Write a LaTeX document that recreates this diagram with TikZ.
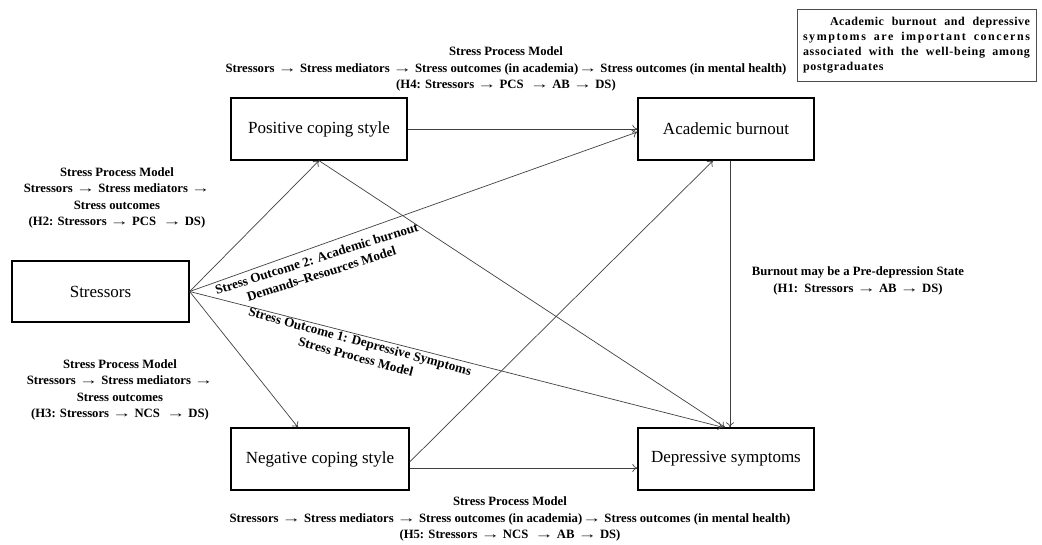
\documentclass[tikz,border=0pt]{standalone}
\usepackage{fontspec}
\usepackage{graphicx}
\setmainfont{Liberation Serif}
\newfontfamily\lsa[LetterSpace=4]{Liberation Serif}
\newfontfamily\lsb[LetterSpace=13]{Liberation Serif}
\newfontfamily\lsc[LetterSpace=6]{Liberation Serif}
\usetikzlibrary{arrows.meta}
\newcommand\rar{\scalebox{1.5}[1]{→}}
\begin{document}
\begin{tikzpicture}[x=1pt,y=-1pt,
  box/.style={draw=black,line width=1.3pt,minimum width=176pt,minimum height=62pt,inner sep=0pt,font=\fontsize{17}{20}\selectfont},
  lbl/.style={font=\bfseries\fontsize{12.7}{16.5}\selectfont,align=center,inner sep=0pt},
  rlbl/.style={font=\bfseries\fontsize{13.2}{16}\selectfont,align=center,inner sep=0pt},
  conn/.style={draw=black!75,line width=0.7pt,-{To[length=5pt,width=8pt]}}]
\useasboundingbox (0,0) rectangle (1042,544);
\node[box,minimum width=177pt,minimum height=61pt] (S) at (100.5,291.5) {Stressors};
\node[box] (P) at (319,129) {Positive coping style};
\node[box,minimum width=178pt] (N) at (320,459) {Negative coping style};
\node[box] (A) at (726,129) {Academic burnout};
\node[box] (D) at (726,459) {Depressive symptoms};
\node[draw=black!70,line width=0.9pt,minimum width=239pt,minimum height=72pt,inner sep=0pt] (note) at (916.5,45) {};
\node[align=left,inner sep=0pt,font=\fontsize{12}{15}\selectfont] (notetext) at (note.center) {%
\makebox[227pt][s]{\lsa\bfseries\hspace*{27pt}Academic burnout and depressive}\\
\makebox[227pt][s]{\lsb\bfseries symptoms are important concerns}\\
\makebox[227pt][s]{\lsc\bfseries associated with the well-being among}\\
\makebox[227pt][l]{\lsc\bfseries postgraduates}};
% connectors
\draw[conn] (S.east) -- (P.south);
\draw[conn] (S.east) -- ([xshift=-22pt]N.north);
\draw[conn] (S.east) -- ([yshift=-3pt]A.west);
\draw[conn] (S.east) -- ([xshift=-3pt]D.north);
\draw[conn] (P.south) -- ([xshift=-1pt]D.north);
\draw[conn] (P.east) -- (A.west);
\draw[conn] ([yshift=-3pt]N.east) -- ([xshift=-13pt]A.south);
\draw[conn] ([yshift=-9pt]N.east) -- ([yshift=-9pt]D.west);
\draw[conn] ([xshift=4pt]A.south) -- ([xshift=4pt]D.north);
% labels
\node[lbl] (l4) at (506,69) {Stress Process Model\\Stressors \rar{} Stress mediators \rar{} Stress outcomes (in academia)\rar{} Stress outcomes (in mental health)\\(H4: Stressors \rar{} PCS \ \rar{} AB \rar{} DS)};
\node[lbl] (l2) at (117,198) {Stress Process Model\\Stressors \rar{} Stress mediators \rar\\Stress outcomes\\(H2: Stressors \rar{} PCS \ \rar{} DS)};
\node[lbl] (l3) at (120,390) {Stress Process Model\\Stressors \rar{} Stress mediators \rar\\Stress outcomes\\(H3: Stressors \rar{} NCS \ \rar{} DS)};
\node[lbl] (l5) at (510,519) {Stress Process Model\\Stressors \rar{} Stress mediators \rar{} Stress outcomes (in academia)\rar{} Stress outcomes (in mental health)\\(H5: Stressors \rar{} NCS \ \rar{} AB \rar{} DS)};
\node[lbl] (l1) at (858,281) {Burnout may be a Pre-depression State\\(H1:\ \ Stressors \rar{} AB \rar{} DS)};
\node[rlbl,rotate=17.5] (o2) at (319,266) {Stress Outcome 2: Academic burnout\\Demands–Resources Model};
\node[rlbl,rotate=-15] (o1) at (358,349) {Stress Outcome 1: Depressive Symptoms\\Stress Process Model};
\end{tikzpicture}
\end{document}
